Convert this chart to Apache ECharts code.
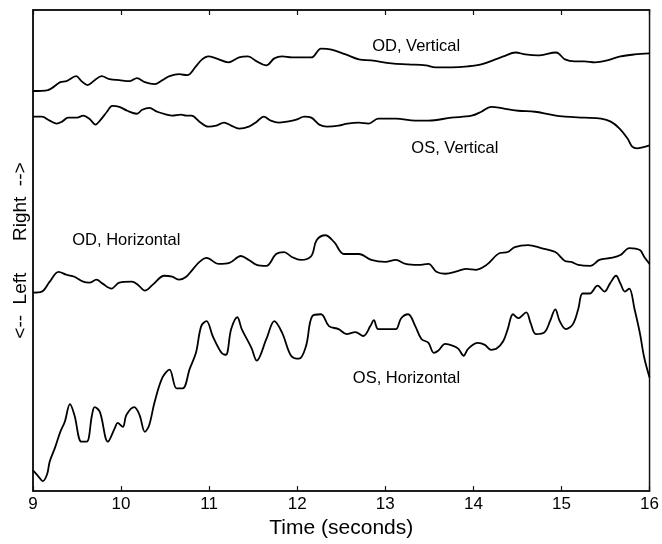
<!DOCTYPE html>
<html>
<head>
<meta charset="utf-8">
<script src="https://cdn.jsdelivr.net/npm/echarts@6/dist/echarts.min.js"></script>
<style>
  html, body { margin: 0; padding: 0; background: #fff; }
  #chart { width: 662px; height: 544px; }
</style>
</head>
<body>
<div id="chart"></div>
<script>
// eye position traces, [time (s), position (arbitrary units)]
const odVertical = [
  [9.00, 405], [9.17, 406], [9.31, 414], [9.38, 415], [9.49, 420], [9.55, 415],
  [9.62, 411], [9.70, 416], [9.78, 420], [9.87, 417], [9.98, 416], [10.10, 415],
  [10.18, 418], [10.27, 414], [10.38, 412], [10.47, 416], [10.55, 420], [10.66, 422],
  [10.75, 421], [10.85, 430], [10.92, 437], [10.99, 440], [11.08, 438], [11.22, 434],
  [11.34, 439], [11.44, 440], [11.54, 435], [11.65, 431], [11.74, 438], [11.83, 440],
  [11.94, 439], [12.16, 439], [12.27, 448], [12.39, 447], [12.55, 442], [12.70, 437],
  [12.84, 436], [13.07, 433], [13.26, 432], [13.46, 431], [13.57, 429], [13.75, 429],
  [13.94, 430], [14.09, 432], [14.25, 437], [14.34, 440], [14.48, 444], [14.59, 442],
  [14.73, 441], [14.94, 444], [15.04, 437], [15.15, 435], [15.26, 435], [15.38, 434],
  [15.52, 436], [15.67, 440], [15.83, 442], [16.00, 443]
];
const osVertical = [
  [9.00, 379], [9.10, 379], [9.19, 375], [9.27, 372], [9.33, 374], [9.40, 378],
  [9.50, 378], [9.57, 380], [9.64, 377], [9.71, 371], [9.76, 375], [9.84, 384],
  [9.90, 390], [9.98, 389], [10.07, 385], [10.18, 382], [10.24, 386], [10.32, 388],
  [10.41, 384], [10.52, 381], [10.58, 380], [10.68, 381], [10.74, 380], [10.80, 380],
  [10.89, 374], [10.99, 369], [11.08, 370], [11.17, 373], [11.25, 370], [11.34, 367],
  [11.45, 369], [11.54, 374], [11.62, 379], [11.70, 375], [11.79, 373], [11.88, 374],
  [11.99, 376], [12.08, 379], [12.16, 378], [12.25, 371], [12.34, 369], [12.47, 370],
  [12.57, 372], [12.70, 373], [12.81, 372], [12.92, 377], [13.12, 377], [13.34, 375],
  [13.49, 375], [13.75, 378], [13.98, 380], [14.09, 384], [14.20, 389], [14.36, 387],
  [14.51, 385], [14.70, 384], [14.88, 381], [15.04, 379], [15.26, 378], [15.45, 377],
  [15.56, 374], [15.66, 367], [15.75, 357], [15.80, 349], [15.86, 347], [15.92, 348],
  [16.00, 350]
];
const odHorizontal = [
  [9.00, 201], [9.10, 202], [9.19, 212], [9.29, 222], [9.38, 219], [9.47, 217],
  [9.57, 212], [9.64, 211], [9.72, 214], [9.79, 210], [9.89, 205], [9.98, 211],
  [10.12, 212], [10.19, 209], [10.27, 203], [10.36, 209], [10.49, 218], [10.58, 217],
  [10.66, 214], [10.74, 217], [10.81, 224], [10.89, 232], [10.97, 236], [11.11, 230],
  [11.23, 231], [11.36, 238], [11.45, 234], [11.54, 229], [11.65, 228], [11.76, 240],
  [11.85, 242], [11.94, 237], [12.04, 234], [12.16, 238], [12.22, 254], [12.32, 259],
  [12.42, 252], [12.53, 240], [12.70, 240], [12.84, 234], [13.00, 232], [13.12, 234],
  [13.23, 230], [13.38, 229], [13.49, 230], [13.58, 222], [13.68, 220], [13.83, 223],
  [13.92, 225], [14.03, 224], [14.15, 229], [14.30, 241], [14.39, 242], [14.47, 247],
  [14.62, 249], [14.77, 246], [14.93, 242], [15.04, 233], [15.11, 232], [15.19, 229],
  [15.33, 228], [15.43, 234], [15.56, 236], [15.67, 239], [15.77, 246], [15.89, 244],
  [15.94, 237], [16.00, 230]
];
const osHorizontal = [
  [9.00, 21], [9.06, 15], [9.11, 10], [9.16, 17], [9.19, 30], [9.25, 44],
  [9.31, 60], [9.36, 70], [9.42, 88], [9.47, 77], [9.55, 50], [9.61, 50],
  [9.67, 77], [9.70, 85], [9.76, 80], [9.85, 50], [9.93, 64], [9.96, 69],
  [10.02, 65], [10.06, 77], [10.15, 85], [10.21, 77], [10.27, 60], [10.32, 67],
  [10.38, 90], [10.47, 115], [10.55, 123], [10.63, 104], [10.70, 104], [10.78, 124],
  [10.85, 140], [10.91, 167], [10.97, 172], [11.04, 157], [11.14, 140], [11.19, 138],
  [11.25, 164], [11.32, 176], [11.37, 164], [11.48, 145], [11.54, 132], [11.65, 154],
  [11.74, 172], [11.83, 160], [11.93, 137], [12.02, 134], [12.10, 147], [12.17, 177],
  [12.27, 179], [12.36, 167], [12.47, 164], [12.56, 159], [12.66, 161], [12.75, 157],
  [12.83, 167], [12.87, 173], [12.92, 164], [13.04, 164], [13.12, 164], [13.18, 175],
  [13.26, 179], [13.34, 167], [13.41, 154], [13.49, 150], [13.55, 140], [13.60, 142],
  [13.68, 149], [13.77, 147], [13.83, 144], [13.89, 137], [13.94, 144], [14.05, 150],
  [14.13, 148], [14.20, 143], [14.26, 144], [14.34, 152], [14.39, 164], [14.45, 179],
  [14.51, 175], [14.60, 181], [14.65, 170], [14.71, 159], [14.81, 161], [14.87, 172],
  [14.93, 184], [14.98, 172], [15.05, 164], [15.13, 169], [15.19, 184], [15.24, 200],
  [15.32, 200], [15.41, 208], [15.49, 202], [15.55, 210], [15.62, 218], [15.67, 210],
  [15.72, 202], [15.77, 205], [15.83, 184], [15.89, 160], [15.94, 135], [16.00, 115]
];
// trace names and where they are written on the plot
const traceLabels = [
  [13.35, 450, 'OD, Vertical'],
  [13.79, 347, 'OS, Vertical'],
  [10.06, 254, 'OD, Horizontal'],
  [13.24, 114, 'OS, Horizontal']
];

const chart = echarts.init(document.getElementById('chart'), null, { renderer: 'canvas' });
const font = 'Liberation Sans, Arial, sans-serif';

const traceSeries = (data) => ({
  type: 'line',
  data: data,
  showSymbol: false,
  smooth: 0.35,
  silent: true,
  lineStyle: { color: '#000', width: 1.8 }
});

chart.setOption({
  animation: false,
  backgroundColor: '#fff',
  grid: {
    left: 33, right: 10, top: 10, bottom: 45,
    show: true, borderColor: '#111', borderWidth: 1.5
  },
  xAxis: [
    {
      type: 'value', min: 9, max: 16, interval: 1,
      name: 'Time (seconds)', nameLocation: 'middle', nameGap: 23,
      nameTextStyle: { fontSize: 21, color: '#000', fontFamily: font },
      axisLine: { lineStyle: { color: '#111', width: 1.5 } },
      axisTick: { inside: true, length: 5, lineStyle: { color: '#111', width: 1.2 } },
      axisLabel: { fontSize: 17, color: '#000', fontFamily: font, margin: 5 },
      splitLine: { show: false }
    },
    {
      type: 'value', min: 9, max: 16, interval: 1, position: 'top',
      axisLine: { lineStyle: { color: '#111', width: 1.5 } },
      axisTick: { inside: true, length: 5, lineStyle: { color: '#111', width: 1.2 } },
      axisLabel: { show: false },
      splitLine: { show: false }
    }
  ],
  yAxis: {
    type: 'value', min: 0, max: 487,
    name: '<--  Left      Right  -->', nameLocation: 'middle', nameRotate: 90, nameGap: 3,
    nameTextStyle: { fontSize: 19, color: '#000', fontFamily: font },
    axisLine: { show: true, lineStyle: { color: '#111', width: 1.5 } },
    axisTick: { show: false },
    axisLabel: { show: false },
    splitLine: { show: false }
  },
  series: [
    traceSeries(odVertical),
    traceSeries(osVertical),
    traceSeries(odHorizontal),
    traceSeries(osHorizontal),
    {
      type: 'scatter',
      symbolSize: 1,
      itemStyle: { opacity: 0 },
      silent: true,
      data: traceLabels,
      label: {
        show: true,
        position: 'inside',
        formatter: (p) => p.data[2],
        fontSize: 16.5,
        color: '#000',
        opacity: 1,
        textBorderWidth: 0,
        fontFamily: font
      }
    }
  ]
});
</script>
</body>
</html>
